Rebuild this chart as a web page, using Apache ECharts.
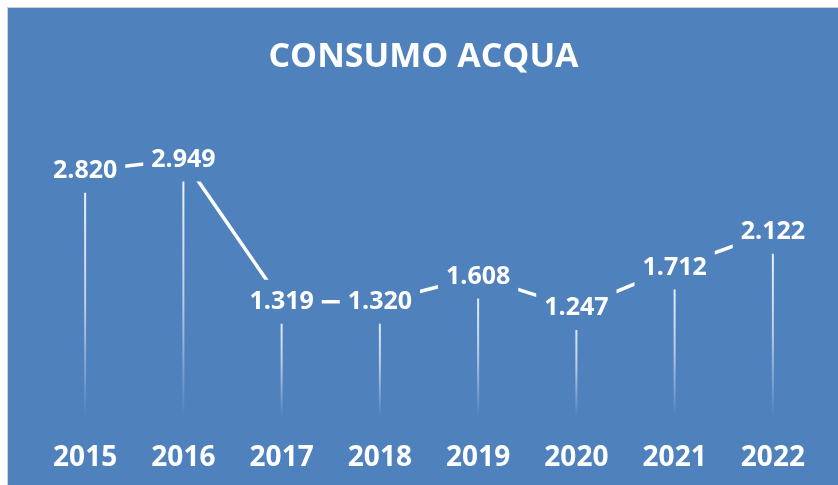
<!DOCTYPE html>
<html>
<head>
<meta charset="utf-8">
<script src="https://cdn.jsdelivr.net/npm/echarts@6/dist/echarts.min.js"></script>
<style>
  html, body { margin: 0; padding: 0; background: #fff; }
  #wrap { position: relative; width: 838px; height: 485px; overflow: hidden; }
  #chart {
    position: absolute; left: 7px; top: 7px;
    width: 831px; height: 478px;
    border-left: 1px solid #d0d0d0; border-top: 1px solid #d0d0d0;
  }
</style>
</head>
<body>
<div id="wrap"><div id="chart"></div></div>
<script>
// anni e consumi
const years = ['2015', '2016', '2017', '2018', '2019', '2020', '2021', '2022']
const consumo = [2820, 2949, 1319, 1320, 1608, 1247, 1712, 2122]

const bg = '#4f81bd'
const font = 'Open Sans'

// separatore delle migliaia all'italiana
const fmt = v => String(v).replace(/\B(?=(\d{3})+(?!\d))/g, '.')

const chart = echarts.init(document.getElementById('chart'))
chart.setOption({
  backgroundColor: bg,
  animation: false,
  title: {
    text: 'CONSUMO ACQUA',
    left: 'center',
    top: 27,
    textStyle: { color: '#fff', fontFamily: font, fontWeight: 'bold', fontSize: 34 }
  },
  grid: { left: 28, right: 17, top: 147, bottom: 69 },
  xAxis: {
    type: 'category',
    data: years,
    axisLine: { show: false },
    axisTick: { show: false },
    axisLabel: {
      color: '#fff', fontFamily: font, fontWeight: 'bold', fontSize: 28,
      margin: 27
    }
  },
  yAxis: {
    type: 'value',
    min: 0,
    max: 3000,
    show: false
  },
  series: [
    {
      // linee di proiezione
      type: 'bar',
      data: consumo,
      barWidth: 2,
      z: 1,
      itemStyle: {
        color: new echarts.graphic.LinearGradient(0, 0, 0, 1, [
          { offset: 0, color: 'rgba(255,255,255,0.95)' },
          { offset: 0.55, color: 'rgba(255,255,255,0.6)' },
          { offset: 1, color: 'rgba(255,255,255,0)' }
        ])
      }
    },
    {
      type: 'line',
      data: consumo,
      z: 3,
      showSymbol: true,
      symbol: 'circle',
      symbolSize: 0,
      itemStyle: { color: '#fff' },
      lineStyle: { color: '#fff', width: 3.5 },
      label: {
        show: true,
        position: 'inside',
        formatter: p => fmt(p.value),
        color: '#fff',
        fontFamily: font,
        fontWeight: 'bold',
        fontSize: 25,
        backgroundColor: bg,
        padding: [9, 8, 10, 8]
      }
    }
  ]
})
</script>
</body>
</html>
